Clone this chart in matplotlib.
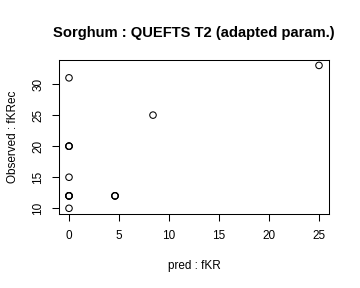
import matplotlib
matplotlib.use("Agg")
import matplotlib.pyplot as plt

plt.rcParams['font.family'] = ['Liberation Sans', 'DejaVu Sans']

# predicted vs observed values (repeated points overlap, as in the original)
pred = [0, 0, 0, 0, 0, 0, 0, 0, 0, 0, 4.6, 4.6, 4.6, 8.4, 25]
obs = [31, 20, 20, 20, 15, 12, 12, 12, 12, 10, 12, 12, 12, 25, 33]
xticks = [0, 5, 10, 15, 20, 25]
yticks = [10, 15, 20, 25, 30]

fig = plt.figure(figsize=(3.6, 2.88), dpi=100)
ax = fig.add_axes([59 / 360, 1 - 214 / 288, 270 / 360, 154.3 / 288])

ax.scatter(pred, obs, s=22, facecolors='none', edgecolors='black', linewidths=0.75)

xr = max(pred) - min(pred)
yr = max(obs) - min(obs)
ax.set_xlim(min(pred) - 0.04 * xr, max(pred) + 0.04 * xr)
ax.set_ylim(min(obs) - 0.04 * yr, max(obs) + 0.04 * yr)

ax.set_xticks(xticks)
ax.set_yticks(yticks)
ax.set_yticklabels([str(v) for v in yticks], rotation=90, va='center')
ax.tick_params(direction='out', length=5, width=0.75, labelsize=8.5)
ax.tick_params(axis='x', pad=6.5)
ax.tick_params(axis='y', pad=5.5)
for sp in ax.spines.values():
    sp.set_linewidth(0.75)

ax.set_xlabel("pred : fKR", fontsize=8.5, labelpad=13)
ax.set_ylabel("Observed : fKRec", fontsize=8.5, labelpad=10)
fig.text(194 / 360, 1 - 33 / 288, "Sorghum : QUEFTS T2 (adapted param.)",
         fontsize=10.6, fontweight='bold', ha='center', va='center')

fig.savefig("out.png", dpi=100)
